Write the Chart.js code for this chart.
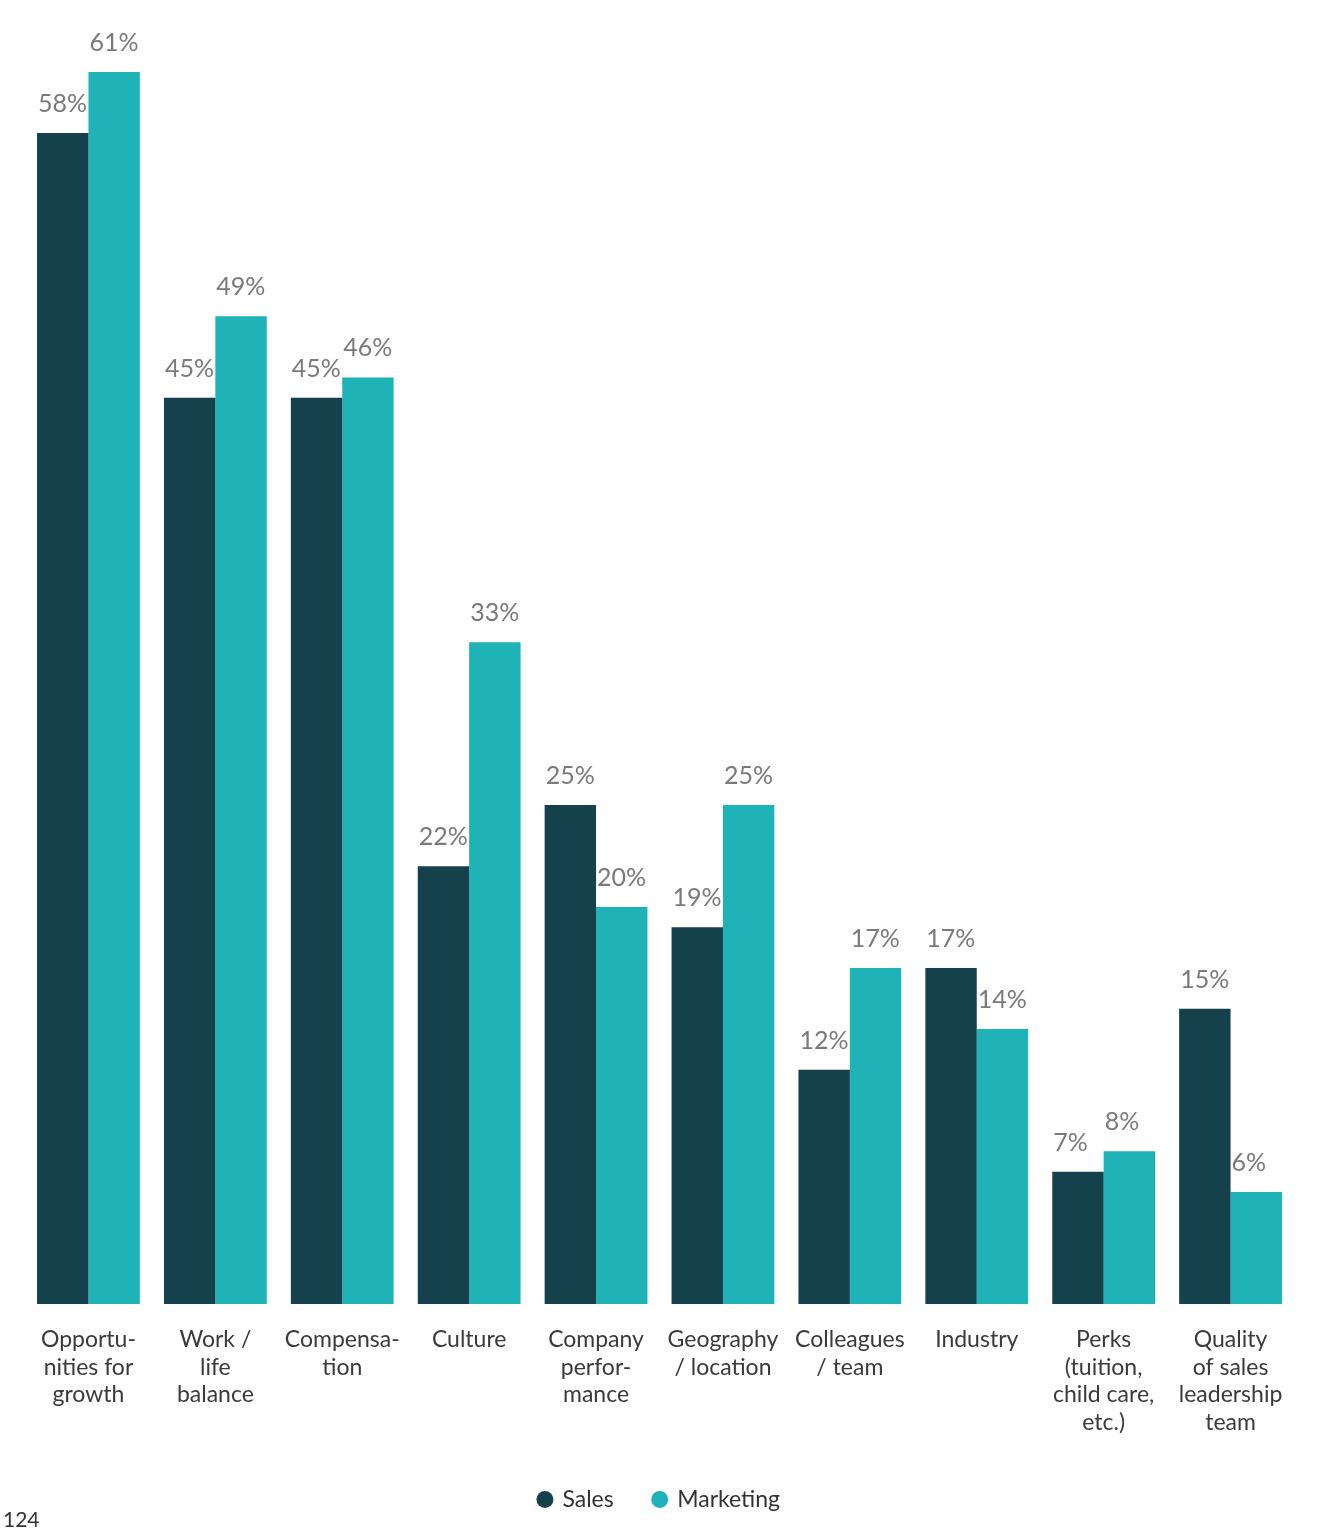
<!DOCTYPE html>
<html>
<head>
<meta charset="utf-8">
<script src="https://cdn.jsdelivr.net/npm/chart.js@4.4.1/dist/chart.umd.min.js"></script>
<style>
  html, body { margin: 0; padding: 0; background: #fff; }
  #wrap { position: relative; width: 1324px; height: 1540px; }
  #pageNo { position: absolute; left: 3px; top: 1506px; font: 21px Lato, sans-serif; color: #333; }
</style>
</head>
<body>
<div id="wrap">
  <canvas id="reasonsChart" width="1324" height="1540"></canvas>
  <div id="pageNo">124</div>
</div>
<script>
const categories = [
  ["Opportu-", "nities for", "growth"],
  ["Work /", "life", "balance"],
  ["Compensa-", "tion"],
  ["Culture"],
  ["Company", "perfor-", "mance"],
  ["Geography", "/ location"],
  ["Colleagues", "/ team"],
  ["Industry"],
  ["Perks", "(tuition,", "child care,", "etc.)"],
  ["Quality", "of sales", "leadership", "team"],
];
const salesValues = [58, 45, 45, 22, 25, 19, 12, 17, 7, 15];
const marketingValues = [61, 49, 46, 33, 20, 25, 17, 14, 8, 6];

const salesColor = "#14414b";
const marketingColor = "#1fb2b6";

const valueLabels = {
  id: "valueLabels",
  afterDatasetsDraw(chart) {
    const ctx = chart.ctx;
    ctx.save();
    ctx.font = "25px Lato, sans-serif";
    ctx.fillStyle = "#7a7a7a";
    ctx.textAlign = "left";
    ctx.textBaseline = "alphabetic";
    chart.data.datasets.forEach((ds, i) => {
      chart.getDatasetMeta(i).data.forEach((bar, j) => {
        ctx.fillText(ds.data[j] + "%", bar.x - bar.width / 2 + 1, bar.y - 21);
      });
    });
    ctx.restore();
  },
};

new Chart(document.getElementById("reasonsChart"), {
  type: "bar",
  data: {
    labels: categories,
    datasets: [
      {
        label: "Sales",
        data: salesValues,
        backgroundColor: salesColor,
        categoryPercentage: 0.81,
        barPercentage: 1,
      },
      {
        label: "Marketing",
        data: marketingValues,
        backgroundColor: marketingColor,
        categoryPercentage: 0.81,
        barPercentage: 1,
      },
    ],
  },
  options: {
    responsive: false,
    animation: false,
    layout: {
      padding: { top: 72, left: 25, right: 30, bottom: 19 },
    },
    plugins: {
      tooltip: { enabled: false },
      legend: {
        display: true,
        position: "bottom",
        labels: {
          usePointStyle: true,
          pointStyle: "circle",
          boxWidth: 12,
          boxHeight: 12,
          padding: 40,
          color: "#333",
          font: { family: "Lato, sans-serif", size: 23 },
        },
      },
    },
    scales: {
      y: {
        display: false,
        min: 0.5,
        max: 61,
      },
      x: {
        grid: { display: false, drawTicks: false },
        border: { display: false },
        ticks: {
          color: "#3a3a3a",
          padding: 22,
          maxRotation: 0,
          autoSkip: false,
          font: { family: "Lato, sans-serif", size: 23, lineHeight: 1.2 },
        },
        afterFit: (scale) => {
          scale.height = 144;
        },
      },
    },
  },
  plugins: [valueLabels],
});
</script>
</body>
</html>
